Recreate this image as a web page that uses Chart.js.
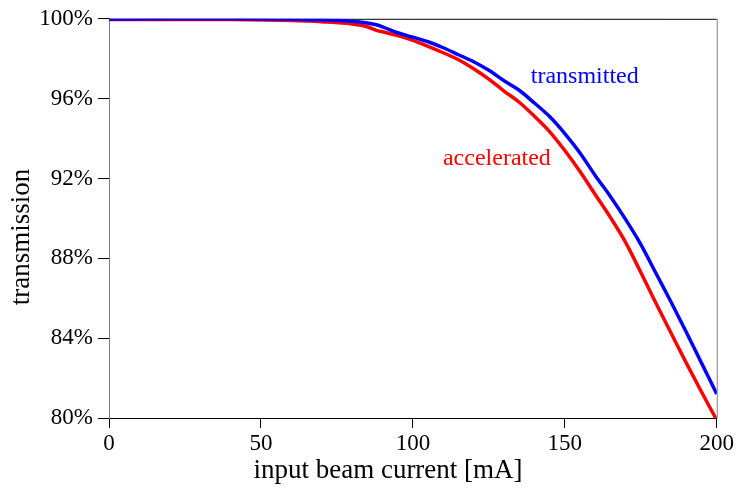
<!DOCTYPE html>
<html>
<head>
<meta charset="utf-8">
<script src="https://cdn.jsdelivr.net/npm/chart.js@4/dist/chart.umd.min.js"></script>
<style>
	html, body { margin: 0; padding: 0; background: #fff; }
	#wrap { width: 736px; height: 497px; }
</style>
</head>
<body>
<div id="wrap"><canvas id="myChart" width="736" height="497"></canvas></div>
<script>
// beam current [mA]
const current = [0, 20, 40, 60, 70, 80, 85, 88, 90, 95, 100, 105, 110, 115, 120, 125, 130, 135, 140, 145, 150, 155, 160, 165, 170, 175, 180, 185, 190, 195, 200];
// transmission [%]
const transmitted = [99.99, 100, 100, 99.98, 99.95, 99.88, 99.79, 99.7, 99.6, 99.3, 99.08, 98.85, 98.55, 98.2, 97.85, 97.42, 96.9, 96.42, 95.78, 95.1, 94.25, 93.28, 92.15, 91.1, 89.95, 88.7, 87.25, 85.8, 84.3, 82.75, 81.2];
const accelerated = [99.96, 99.97, 99.96, 99.91, 99.85, 99.74, 99.6, 99.42, 99.35, 99.16, 98.92, 98.62, 98.3, 97.95, 97.5, 96.98, 96.38, 95.82, 95.12, 94.35, 93.4, 92.35, 91.2, 90.05, 88.8, 87.3, 85.75, 84.25, 82.75, 81.3, 79.9];
const xTicks = [0, 50, 100, 150, 200];
const yTicks = [80, 84, 88, 92, 96, 100];

const serif = '"Liberation Serif", "Times New Roman", serif';

function toPoints(ys) {
	return current.map((x, i) => ({ x: x, y: ys[i] }));
}

// frame, axis titles and curve labels
const decor = {
	id: 'decor',
	beforeDatasetsDraw(chart) {
		const a = chart.chartArea;
		const ctx = chart.ctx;
		ctx.save();
		ctx.lineWidth = 1;
		ctx.strokeStyle = '#000';
		ctx.beginPath();
		ctx.moveTo(a.left, a.top + 0.5);
		ctx.lineTo(a.right, a.top + 0.5);
		ctx.stroke();
		ctx.strokeStyle = '#808080';
		ctx.beginPath();
		ctx.moveTo(a.right + 0.5, a.top);
		ctx.lineTo(a.right + 0.5, a.bottom);
		ctx.stroke();
		ctx.restore();
	},
	afterDraw(chart) {
		const ctx = chart.ctx;
		const xs = chart.scales.x, ys = chart.scales.y;
		ctx.save();
		ctx.fillStyle = '#000';
		ctx.font = '27px ' + serif;
		ctx.textAlign = 'center';
		ctx.textBaseline = 'middle';
		ctx.fillText('input beam current [mA]', 388, 471);
		ctx.translate(22, 237);
		ctx.rotate(-Math.PI / 2);
		ctx.fillText('transmission', 0, 0);
		ctx.restore();

		ctx.save();
		ctx.font = '24px ' + serif;
		ctx.textAlign = 'left';
		ctx.textBaseline = 'middle';
		ctx.fillStyle = '#0000ff';
		ctx.fillText('transmitted', xs.getPixelForValue(138.8), ys.getPixelForValue(97.09));
		ctx.fillStyle = '#ff0000';
		ctx.fillText('accelerated', xs.getPixelForValue(109.9), ys.getPixelForValue(93.0));
		ctx.restore();
	}
};

const ctx = document.getElementById('myChart').getContext('2d');
const myChart = new Chart(ctx, {
	type: 'line',
	data: {
		datasets: [
			{
				label: 'transmitted',
				data: toPoints(transmitted),
				borderColor: '#0000ff',
				borderWidth: 3.5,
				pointRadius: 0,
				cubicInterpolationMode: 'monotone',
				fill: false
			},
			{
				label: 'accelerated',
				data: toPoints(accelerated),
				borderColor: '#ff0000',
				borderWidth: 3.5,
				pointRadius: 0,
				cubicInterpolationMode: 'monotone',
				fill: false
			}
		]
	},
	options: {
		responsive: false,
		animation: false,
		layout: { padding: { top: 16, right: 19, left: 0, bottom: 0 } },
		plugins: {
			legend: { display: false },
			tooltip: { enabled: false }
		},
		scales: {
			x: {
				type: 'linear',
				min: 0,
				max: 200,
				afterBuildTicks: function(scale) {
					scale.ticks = xTicks.map(v => ({ value: v }));
				},
				afterFit: function(scale) { scale.height = 79; },
				ticks: {
					color: '#000',
					padding: 2,
					maxRotation: 0,
					font: { family: serif, size: 23 }
				},
				grid: { drawOnChartArea: false, drawTicks: true, tickLength: 10, color: '#000' },
				border: { color: '#000', width: 1 }
			},
			y: {
				type: 'linear',
				min: 80,
				max: 100,
				afterBuildTicks: function(scale) {
					scale.ticks = yTicks.map(v => ({ value: v }));
				},
				afterFit: function(scale) { scale.width = 109; },
				ticks: {
					color: '#000',
					padding: 5,
					font: { family: serif, size: 23 },
					callback: function(value) { return value + '%'; }
				},
				grid: { drawOnChartArea: false, drawTicks: true, tickLength: 11, color: '#000' },
				border: { color: '#808080', width: 1 }
			}
		}
	},
	plugins: [decor]
});
</script>
</body>
</html>
